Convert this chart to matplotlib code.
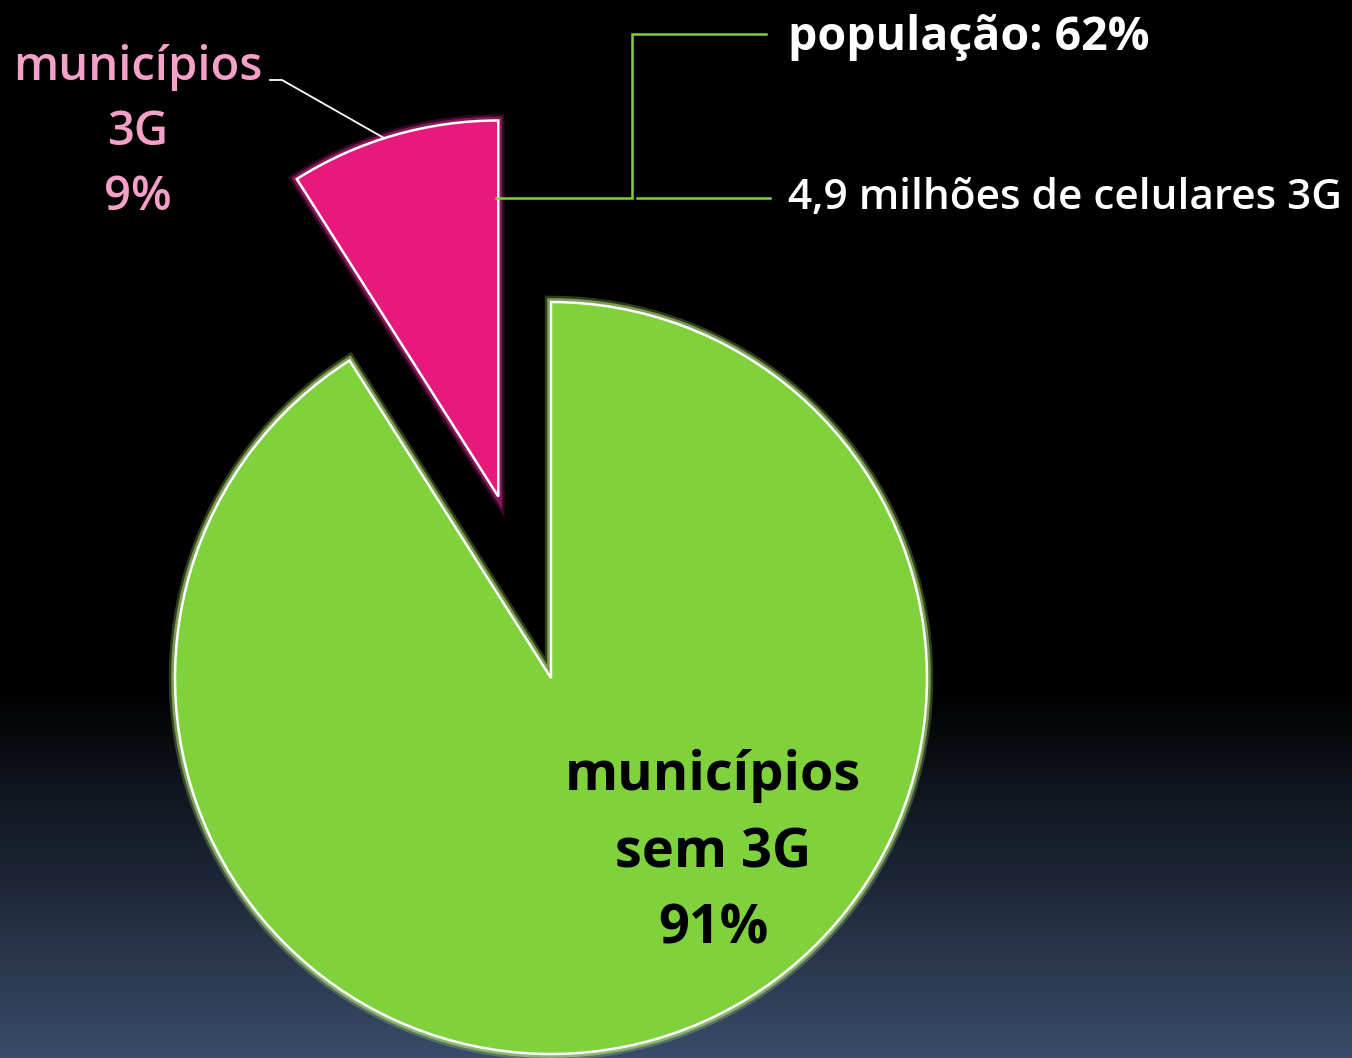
import numpy as np
import matplotlib
matplotlib.use("Agg")
import matplotlib.pyplot as plt
import matplotlib.patheffects as pe

# ---- data ----
categories = ["municípios 3G", "municípios sem 3G"]
shares = [9, 91]
slice_colors = ["#e8197d", "#80d23c"]
glow_colors = ["#d0208a", "#b8f078"]
pink_label = ["municípios", "3G", "9%"]
green_label = ["municípios", "sem 3G", "91%"]
side_notes = ["população: 62%", "4,9 milhões de celulares 3G"]

W, H = 1352, 1058
FONT = ["Open Sans", "DejaVu Sans"]

fig = plt.figure(figsize=(W / 100, H / 100), dpi=100)
ax = fig.add_axes([0, 0, 1, 1])

def Y(ypx):
    return H - ypx

# background gradient: black on top, dark blue at bottom
rows = np.arange(H)
stops = [0, 690, 800, 900, H]
r = np.interp(rows, stops, [0, 0, 18, 32, 58])
g = np.interp(rows, stops, [0, 0, 23, 42, 76])
b = np.interp(rows, stops, [0, 0, 33, 60, 106])
grad = np.stack([r, g, b], axis=1)[:, None, :] / 255.0
grad = np.repeat(grad, 2, axis=1)
ax.imshow(grad, extent=[0, W, 0, H], aspect="auto", zorder=0, origin="upper")

# pie
center = (551, Y(678))
radius = 376
explode = [189, 0]
wedges, _ = ax.pie(shares, colors=slice_colors, startangle=90, counterclock=True,
                   explode=explode, center=center, radius=radius, frame=True,
                   wedgeprops=dict(edgecolor="white", linewidth=1.8))
for w, gc in zip(wedges, glow_colors):
    w.set_zorder(2)
    w.set_path_effects([
        pe.Stroke(linewidth=9, foreground=gc, alpha=0.25),
        pe.Stroke(linewidth=5.5, foreground=gc, alpha=0.55),
        pe.Normal(),
    ])
ax.set_xlim(0, W)
ax.set_ylim(0, H)
ax.set_aspect("equal")
ax.axis("off")

# leader lines
green_line = "#7ed13a"
ax.plot([496, 632, 632, 766], [Y(198), Y(198), Y(34), Y(34)],
        color=green_line, lw=1.8, zorder=3, solid_joinstyle="miter")
ax.plot([637, 770], [Y(198), Y(198)], color=green_line, lw=1.8, zorder=3)
ax.plot([270, 282, 384], [Y(80), Y(80), Y(138)], color="white", lw=1.3, zorder=3)

# labels
pink_text = "#f5a0c8"
for txt, yb in zip(pink_label, [80, 145, 210]):
    ax.text(138, Y(yb), txt, ha="center", va="baseline", color=pink_text,
            fontsize=34, fontweight="semibold", family=FONT, zorder=4)
for txt, yb in zip(green_label, [790, 867, 944]):
    ax.text(713, Y(yb), txt, ha="center", va="baseline", color="black",
            fontsize=39, fontweight="bold", family=FONT, zorder=4)
ax.text(788, Y(50), side_notes[0], ha="left", va="baseline", color="white",
        fontsize=33.5, fontweight="bold", family=FONT, zorder=4)
ax.text(788, Y(209), side_notes[1], ha="left", va="baseline", color="white",
        fontsize=30.5, fontweight="semibold", family=FONT, zorder=4)

fig.savefig("out.png", dpi=100, facecolor="black")
